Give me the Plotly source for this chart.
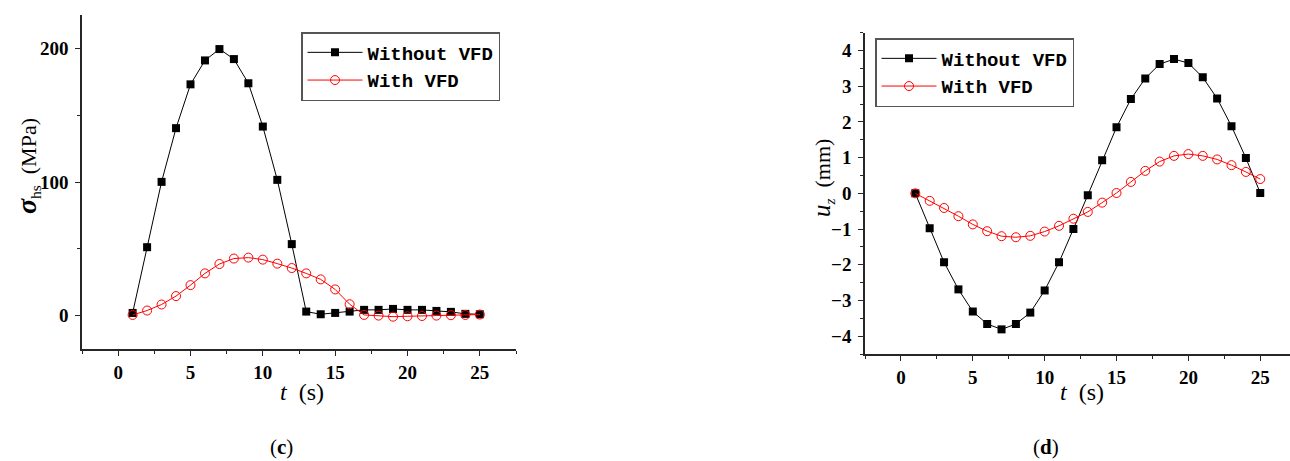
import plotly.graph_objects as go

# Time steps (s)
t = list(range(1, 26))

# Hot-spot stress sigma_hs (MPa)
sigma_without = [2, 51.2, 100.1, 140.3, 173.1, 191, 199.5, 192, 173.9, 141.5, 101.6, 53.5,
                 3, 1, 2, 3, 4.3, 4.3, 5, 4.3, 4.3, 3.5, 2.8, 1.3, 1]
sigma_with = [0.5, 3.8, 8.3, 14.6, 22.8, 31.6, 38.6, 42.7, 43.4, 41.9, 38.9, 35.6,
              31.6, 27.1, 19.6, 8.5, 0.5, 0, -0.8, -0.5, -0.3, 0, 0.3, 0.5, 0.8]

# Vertical displacement u_z (mm)
uz_without = [0, -0.98, -1.93, -2.69, -3.31, -3.66, -3.81, -3.66, -3.34, -2.72, -1.93, -1.0,
              -0.05, 0.93, 1.85, 2.64, 3.22, 3.62, 3.76, 3.65, 3.25, 2.66, 1.88, 0.99, 0.01]
uz_with = [0, -0.21, -0.41, -0.64, -0.87, -1.06, -1.2, -1.23, -1.19, -1.07, -0.91, -0.71,
           -0.52, -0.26, 0.01, 0.32, 0.63, 0.89, 1.05, 1.1, 1.05, 0.95, 0.79, 0.6, 0.4]

series_names = ["Without VFD", "With VFD"]
x_ticks = [0, 5, 10, 15, 20, 25]

W, H = 1290, 461
SERIF = "Liberation Serif"
MONO = "Liberation Mono"
AXIS_COLOR = "#262626"

fig = go.Figure()


def add_pair(y_black, y_red, xa, ya, legend):
    fig.add_trace(go.Scatter(
        x=t, y=y_black, name=series_names[0], mode="lines+markers",
        line=dict(color="black", width=1),
        marker=dict(symbol="square", size=8, color="black"),
        xaxis=xa, yaxis=ya, legend=legend))
    fig.add_trace(go.Scatter(
        x=t, y=y_red, name=series_names[1], mode="lines+markers",
        line=dict(color="#ff0000", width=1),
        marker=dict(symbol="circle-open", size=9, color="#ff0000", line=dict(width=1)),
        xaxis=xa, yaxis=ya, legend=legend))


add_pair(sigma_without, sigma_with, "x", "y", "legend")
add_pair(uz_without, uz_with, "x2", "y2", "legend2")

tickfont = dict(family=SERIF, size=19, color="black", weight="bold")

common_axis = dict(
    showline=True, linecolor=AXIS_COLOR, linewidth=1.5,
    showgrid=False, zeroline=False,
    ticks="outside", ticklen=5, tickwidth=1.2, tickcolor=AXIS_COLOR,
    tickfont=tickfont, automargin=False,
)
x_axis = dict(common_axis, tickvals=x_ticks, ticklabelstandoff=0,
              minor=dict(ticks="outside", ticklen=3, tickwidth=1, tickcolor=AXIS_COLOR,
                         tick0=-2.5, dtick=2.5))


# Pixel-based domains
def fx(px):
    return px / W


def fy(py):
    return (H - py) / H


legend_style = dict(
    xanchor="left", yanchor="top",
    bordercolor="#555", borderwidth=1.5, bgcolor="white",
    font=dict(family=MONO, size=19, color="black", weight="bold"),
    tracegroupgap=0, itemwidth=55,
)

fig.update_layout(
    width=W, height=H,
    margin=dict(l=0, r=0, t=0, b=0),
    paper_bgcolor="white", plot_bgcolor="white",
    xaxis=dict(x_axis, domain=[fx(82), fx(516)], range=[-2.5, 27.5], anchor="y"),
    yaxis=dict(common_axis, domain=[fy(349), fy(15)], range=[-25, 225],
               tickvals=[0, 100, 200], anchor="x", ticklabelstandoff=3,
               minor=dict(ticks="outside", ticklen=3, tickwidth=1, tickcolor=AXIS_COLOR,
                          tick0=0, dtick=50)),
    xaxis2=dict(x_axis, domain=[fx(865), 1.0], range=[-2.5, 27.07], anchor="y2"),
    yaxis2=dict(common_axis, domain=[fy(354), fy(32.7)], range=[-4.5, 4.5],
                tickvals=[-4, -3, -2, -1, 0, 1, 2, 3, 4], anchor="x2", ticklabelstandoff=3,
                minor=dict(ticks="outside", ticklen=3, tickwidth=1, tickcolor=AXIS_COLOR,
                           tick0=0, dtick=0.5)),
    legend=dict(legend_style, x=fx(301), y=fy(32)),
    legend2=dict(legend_style, x=fx(875), y=fy(38)),
    showlegend=True,
)


def label(text, px, py, size, angle=0):
    return dict(text=text, x=fx(px), y=fy(py), xref="paper", yref="paper",
                xanchor="center", yanchor="middle", textangle=angle,
                showarrow=False, font=dict(family=SERIF, size=size, color="black"))


annotations = [
    # x-axis titles
    label("<i>t</i>  (s)", 302, 392, 24),
    label("<i>t</i>  (s)", 1082, 392, 24),
    # y-axis titles
    label("<span style='font-size:28px'><b><i>σ</i></b></span><sub>hs</sub>  (MPa)",
          27, 166, 22, -90),
    label("<span style='font-size:25px'><i>u</i></span><sub><i>z</i></sub>  (mm)",
          823, 178, 22, -90),
    # panel labels
    label("(<b>c</b>)", 281, 447, 21),
    label("(<b>d</b>)", 1046, 447, 21),
]
fig.update_layout(annotations=annotations)

fig.write_html("out.html")
